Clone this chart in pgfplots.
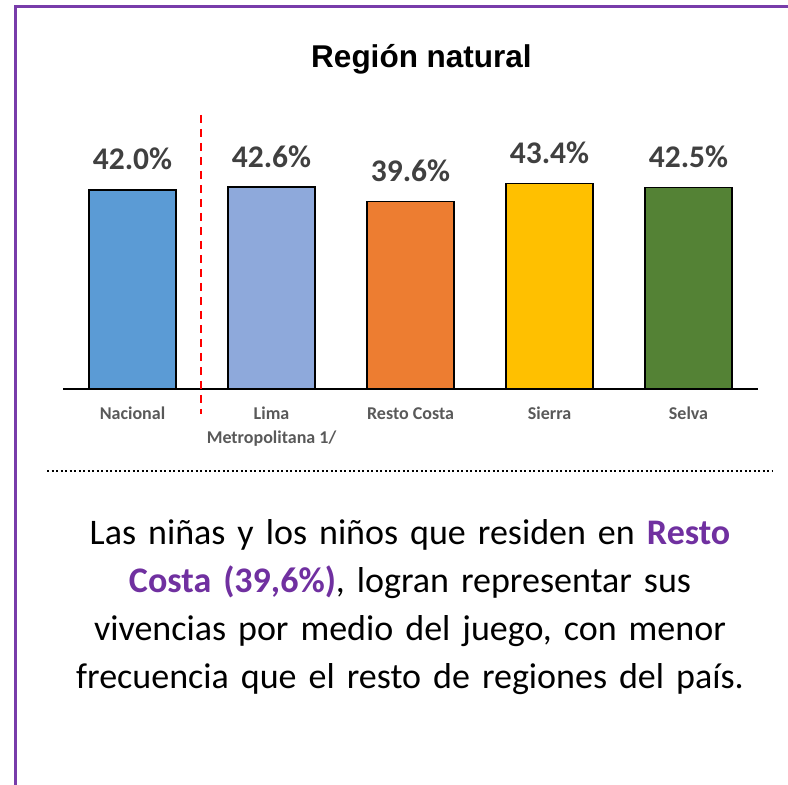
\documentclass[border=0pt]{standalone}
\usepackage{pgfplots}
\pgfplotsset{compat=1.18}
\usepackage{fontspec}
\setmainfont{Carlito}
\newfontfamily\arialfont{Liberation Sans}
\definecolor{marco}{RGB}{120,60,170}
\definecolor{morado}{HTML}{7030A0}
\definecolor{valgris}{HTML}{404040}
\definecolor{catgris}{HTML}{595959}
\definecolor{cNac}{HTML}{5B9BD5}
\definecolor{cLima}{HTML}{8EA9DB}
\definecolor{cResto}{HTML}{ED7D31}
\definecolor{cSierra}{HTML}{FFC000}
\definecolor{cSelva}{HTML}{548235}
\pgfplotsset{barra/.style={ybar, bar width=87bp, bar shift=0pt, fill=#1, draw=black, line width=1.5bp,
  point meta=explicit symbolic, nodes near coords,
  every node near coord/.append style={font=\bfseries\fontsize{31.5bp}{36bp}\selectfont, text=valgris, anchor=base, yshift=20bp}}}
\begin{document}
\begin{tikzpicture}[x=1bp,y=1bp]
\path[use as bounding box] (0,0) rectangle (788,785);
\draw[marco, line width=3bp] (15,0) -- (15,778) -- (788,778);
\node[font=\arialfont\bfseries\fontsize{31.5bp}{36bp}\selectfont, anchor=base] at (421.5,717) {Región natural};
\begin{axis}[at={(63bp,396bp)}, anchor=south west, scale only axis,
  width=695bp, height=260.6bp,
  xmin=-0.5, xmax=4.5, ymin=0, ymax=55,
  axis x line*=bottom, axis y line=none,
  axis line style={black, line width=1.3bp},
  xtick={0,1,2,3,4}, ytick=\empty, major tick length=0,
  xticklabels={Nacional,{Lima\\Metropolitana 1/},{\vphantom{l}Resto Costa},{\vphantom{l}Sierra},Selva},
  xticklabel style={font=\bfseries\fontsize{18bp}{24bp}\selectfont, text=catgris, align=center, anchor=north, inner sep=0pt, yshift=-18bp},
  clip=false]
\addplot[barra=cNac] coordinates {(0,42.0) [42.0\%]};
\addplot[barra=cLima] coordinates {(1,42.6) [42.6\%]};
\addplot[barra=cResto] coordinates {(2,39.6) [39.6\%]};
\addplot[barra=cSierra] coordinates {(3,43.4) [43.4\%]};
\addplot[barra=cSelva] coordinates {(4,42.5) [42.5\%]};
\end{axis}
\draw[red, line width=2bp, dash pattern=on 8bp off 6bp] (201,670) -- (201,371);
\draw[black, line width=2bp, dash pattern=on 2bp off 2.5bp] (47,314) -- (772,314);
\node[align=center, text width=740bp, font=\fontsize{36bp}{48bp}\selectfont] at (410,178)
  {Las niñas y los niños que residen en \textcolor{morado}{\textbf{Resto}}\\
   \textcolor{morado}{\textbf{Costa (39,6\%)}}, logran representar sus\\
   vivencias por medio del juego, con menor\\
   frecuencia que el resto de regiones del país.};
\end{tikzpicture}
\end{document}
